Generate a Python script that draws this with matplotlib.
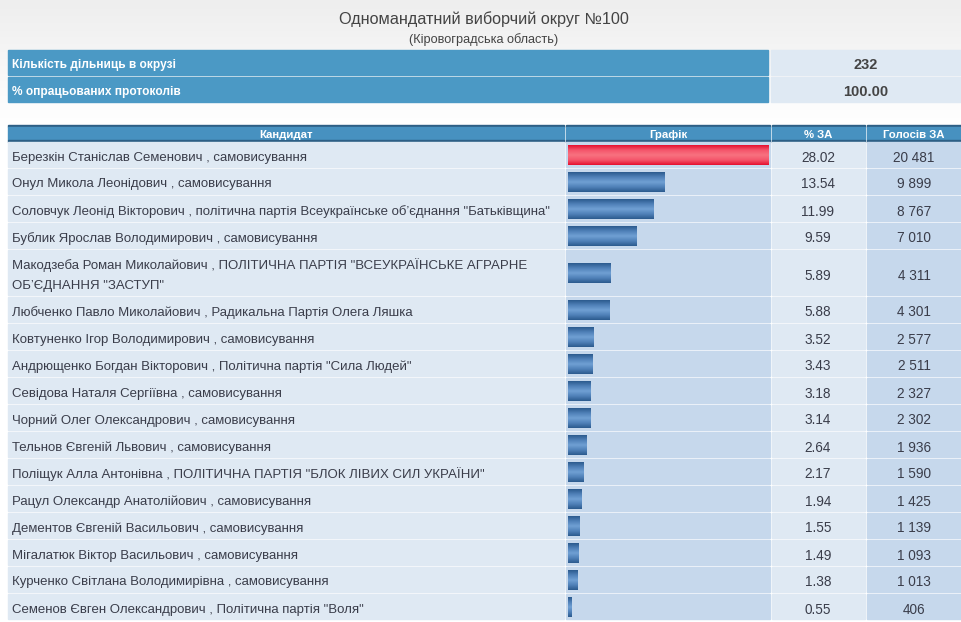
import numpy as np
import matplotlib
matplotlib.use("Agg")
import matplotlib.pyplot as plt
from matplotlib.colors import LinearSegmentedColormap
from matplotlib.patches import Rectangle

# --- data ---
title = "Одномандатний виборчий округ №100"
subtitle = "(Кіровоградська область)"
info_labels = ["Кількість дільниць в окрузі", "% опрацьованих протоколів"]
info_values = ["232", "100.00"]
headers = ["Кандидат", "Графік", "% ЗА", "Голосів ЗА"]

candidates = [
    "Березкін Станіслав Семенович , самовисування",
    "Онул Микола Леонідович , самовисування",
    "Соловчук Леонід Вікторович , політична партія Всеукраїнське об’єднання \"Батьківщина\"",
    "Бублик Ярослав Володимирович , самовисування",
    "Макодзеба Роман Миколайович , ПОЛІТИЧНА ПАРТІЯ \"ВСЕУКРАЇНСЬКЕ АГРАРНЕ\nОБ’ЄДНАННЯ \"ЗАСТУП\"",
    "Любченко Павло Миколайович , Радикальна Партія Олега Ляшка",
    "Ковтуненко Ігор Володимирович , самовисування",
    "Андрющенко Богдан Вікторович , Політична партія \"Сила Людей\"",
    "Севідова Наталя Сергіївна , самовисування",
    "Чорний Олег Олександрович , самовисування",
    "Тельнов Євгеній Львович , самовисування",
    "Поліщук Алла Антонівна , ПОЛІТИЧНА ПАРТІЯ \"БЛОК ЛІВИХ СИЛ УКРАЇНИ\"",
    "Рацул Олександр Анатолійович , самовисування",
    "Дементов Євгеній Васильович , самовисування",
    "Мігалатюк Віктор Васильович , самовисування",
    "Курченко Світлана Володимирівна , самовисування",
    "Семенов Євген Олександрович , Політична партія \"Воля\"",
]
percent = [28.02, 13.54, 11.99, 9.59, 5.89, 5.88, 3.52, 3.43, 3.18, 3.14,
           2.64, 2.17, 1.94, 1.55, 1.49, 1.38, 0.55]
votes = [20481, 9899, 8767, 7010, 4311, 4301, 2577, 2511, 2327, 2302,
         1936, 1590, 1425, 1139, 1093, 1013, 406]

FONT = "Liberation Sans"
W, H = 961, 622
TEXT = "#3a3d4a"
HEAD_BLUE = "#4791c0"
INFO_BLUE = "#4b99c5"
LIGHT = "#dfe9f3"
MID = "#c6d8ec"

# column edges in pixels
cols = [(8, 564), (566, 770), (772, 865), (867, 961)]

fig = plt.figure(figsize=(W / 100, H / 100), dpi=100)
ax = fig.add_axes([0, 0, 1, 1])
ax.set_xlim(0, W)
ax.set_ylim(H, 0)
ax.axis("off")

# page background: light grey fading to white
bg = np.linspace(0, 1, 200).reshape(-1, 1)
bg_cmap = LinearSegmentedColormap.from_list("bg", ["#eeeeee", "#ffffff", "#ffffff"])
ax.imshow(bg, cmap=bg_cmap, extent=(0, W, 250, 0), aspect="auto", zorder=0)
ax.add_patch(Rectangle((0, 250), W, H - 250, color="white", zorder=0))

ax.text(W / 2 + 3, 18, title, ha="center", va="center_baseline", fontsize=11.7,
        family=FONT, color="#444444")
ax.text(W / 2 + 3, 38, subtitle, ha="center", va="center_baseline", fontsize=9.2,
        family=FONT, color="#444444")

# info table
for i, (lab, val) in enumerate(zip(info_labels, info_values)):
    top = 50 + i * 27
    ax.add_patch(Rectangle((8, top), 760, 25, color=INFO_BLUE, zorder=1))
    ax.add_patch(Rectangle((771, top), W - 771, 25, color=LIGHT, zorder=1))
    ax.text(12, top + 13, lab, ha="left", va="center_baseline", fontsize=8.6,
            family=FONT, weight="bold", color="white", zorder=2)
    ax.text(866, top + 13.5, val, ha="center", va="center_baseline", fontsize=10.5,
            family=FONT, weight="bold", color="#444444", zorder=2)

# header row
for (x0, x1), h in zip(cols, headers):
    ax.add_patch(Rectangle((x0, 125), x1 - x0, 2, color="#2d5f85", zorder=1))
    ax.add_patch(Rectangle((x0, 127), x1 - x0, 13, color=HEAD_BLUE, zorder=1))
    ax.add_patch(Rectangle((x0, 140), x1 - x0, 1.5, color="#2d5f85", zorder=1))
    ax.text((x0 + x1) / 2, 134, h, ha="center", va="center_baseline", fontsize=8.2,
            family=FONT, weight="bold", color="white", zorder=2)

# data rows
tops = []
y = 142
for name in candidates:
    nl = name.count("\n") + 1
    h = 7 + 20 * nl
    tops.append((y, h))
    cell_cols = [LIGHT, MID, LIGHT, MID]
    for (x0, x1), c in zip(cols, cell_cols):
        ax.add_patch(Rectangle((x0, y), x1 - x0, h - 2, color=c, zorder=1))
    y += h

for (top, h), name, p, v in zip(tops, candidates, percent, votes):
    cy = top + (h - 2) / 2 + 1.5
    if "\n" in name:
        for k, line in enumerate(name.split("\n")):
            ax.text(12, cy - 10 + 20 * k, line, ha="left", va="center_baseline",
                    fontsize=9.5, family=FONT, color=TEXT, zorder=2)
    else:
        ax.text(12, cy, name, ha="left", va="center_baseline", fontsize=9.5,
                family=FONT, color=TEXT, zorder=2)
    ax.text(818, cy, f"{p:.2f}", ha="center", va="center_baseline", fontsize=9.8,
            family=FONT, color=TEXT, zorder=2)
    ax.text(914, cy, f"{v:,}".replace(",", " "), ha="center", va="center_baseline",
            fontsize=9.8, family=FONT, color=TEXT, zorder=2)

# bar chart column: x in percent, y in pixels
gx0, gx1 = 568, 768
gax = fig.add_axes([gx0 / W, 0, (gx1 - gx0) / W, 1])
gax.set_xlim(0, max(percent))
gax.set_ylim(H, 0)
gax.axis("off")
gax.patch.set_alpha(0)

centers = [top + (h - 2) / 2 + 0.5 for top, h in tops]
bars = gax.barh(centers, percent, height=20, color="none", zorder=2)

prof = np.abs(np.linspace(-1, 1, 64)).reshape(-1, 1)
red_cmap = LinearSegmentedColormap.from_list("r", ["#f8717f", "#f4556b", "#e5102f"])
blue_cmap = LinearSegmentedColormap.from_list("b", ["#6f9fd3", "#4f80b8", "#2c5b8e"])
for i, b in enumerate(bars):
    x, yb = b.get_x(), b.get_y()
    w, hb = b.get_width(), b.get_height()
    cm = red_cmap if i == 0 else blue_cmap
    im = gax.imshow(prof, cmap=cm, extent=(x, x + w, yb + hb, yb),
                    aspect="auto", zorder=3, interpolation="bilinear")
    im.set_clip_path(b)

gax.set_xlim(0, max(percent))
gax.set_ylim(H, 0)

fig.savefig("out.png", dpi=100)
